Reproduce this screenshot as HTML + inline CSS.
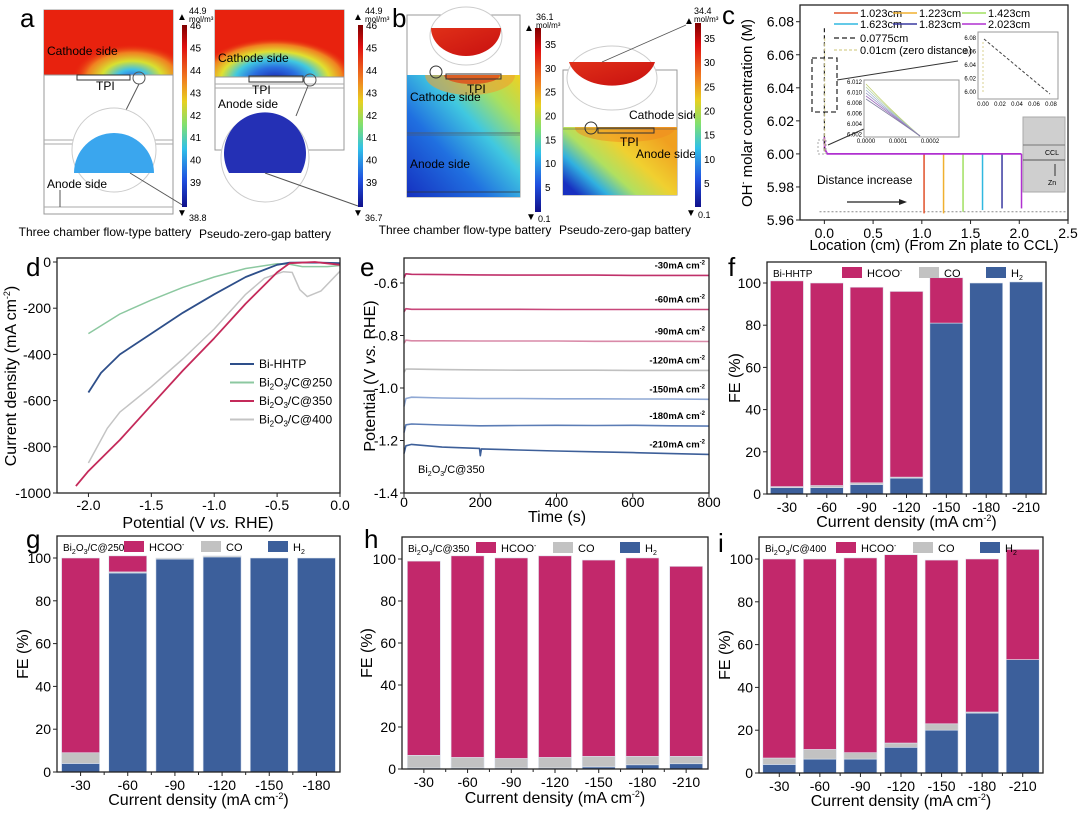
<!DOCTYPE html>
<html><head><meta charset="utf-8">
<style>
html,body{margin:0;padding:0;background:#fff;}
svg{display:block;font-family:"Liberation Sans",Arial,sans-serif;}
</style></head>
<body>
<svg id="fig" width="1080" height="815" viewBox="0 0 1080 815" xmlns="http://www.w3.org/2000/svg">
<defs>
<linearGradient id="jet" x1="0" y1="0" x2="0" y2="1">
<stop offset="0" stop-color="#7f0000"/><stop offset="0.12" stop-color="#e01010"/><stop offset="0.3" stop-color="#f08020"/><stop offset="0.42" stop-color="#e8d020"/><stop offset="0.55" stop-color="#80e070"/><stop offset="0.68" stop-color="#30c0e8"/><stop offset="0.85" stop-color="#2050e0"/><stop offset="1" stop-color="#10108a"/>
</linearGradient>
<radialGradient id="hotA1" cx="0.5" cy="0.5" r="0.5">
<stop offset="0" stop-color="#2a60e0"/><stop offset="0.25" stop-color="#40c0e8"/><stop offset="0.5" stop-color="#d8e030"/><stop offset="0.75" stop-color="#f08020"/><stop offset="1" stop-color="#e8220e" stop-opacity="0"/>
</radialGradient>
<radialGradient id="hotA2" cx="0.5" cy="0.5" r="0.5">
<stop offset="0" stop-color="#1a22b0"/><stop offset="0.3" stop-color="#2a70e0"/><stop offset="0.5" stop-color="#40c8e0"/><stop offset="0.68" stop-color="#e0e030"/><stop offset="0.85" stop-color="#f08020"/><stop offset="1" stop-color="#e8220e" stop-opacity="0"/>
</radialGradient>
<linearGradient id="gB1" x1="0" y1="1" x2="1" y2="0">
<stop offset="0" stop-color="#1530c0"/><stop offset="0.35" stop-color="#2070e0"/><stop offset="0.6" stop-color="#40c8e0"/><stop offset="0.8" stop-color="#a8e060"/><stop offset="1" stop-color="#f0d020"/>
</linearGradient>
<linearGradient id="gB2" x1="0" y1="0.8" x2="0.9" y2="0.2">
<stop offset="0" stop-color="#1830c0"/><stop offset="0.2" stop-color="#30b0e0"/><stop offset="0.4" stop-color="#b0e060"/><stop offset="0.65" stop-color="#f0d030"/><stop offset="1" stop-color="#f0a020"/>
</linearGradient>
<linearGradient id="redC" x1="0" y1="0" x2="1" y2="1">
<stop offset="0" stop-color="#e03018"/><stop offset="1" stop-color="#c81010"/>
</linearGradient>
<clipPath id="clipA1"><rect x="44" y="10" width="129" height="65"/></clipPath>
<clipPath id="clipA2"><rect x="215" y="10" width="129" height="67"/></clipPath>
<clipPath id="clipB1"><rect x="407" y="75" width="113" height="122"/></clipPath>
<clipPath id="clipB2"><rect x="563" y="127" width="114" height="68"/></clipPath>
</defs>

<!-- ===== Panel a ===== -->
<g>
<text x="20" y="27" font-size="26">a</text>
<rect x="44" y="10" width="129" height="204" fill="#fff" stroke="#999"/>
<rect x="44" y="10" width="129" height="65" fill="#e8220e"/>
<ellipse cx="132" cy="78" rx="60" ry="34" fill="url(#hotA1)" clip-path="url(#clipA1)"/>
<rect x="44" y="75" width="129" height="139" fill="#fff" stroke="#999"/>
<line x1="44" y1="140" x2="173" y2="140" stroke="#aaa"/><line x1="44" y1="144" x2="173" y2="144" stroke="#aaa"/>
<line x1="44" y1="207" x2="173" y2="207" stroke="#aaa"/>
<rect x="77" y="75" width="53" height="5" fill="none" stroke="#333"/>
<circle cx="139" cy="78" r="6" fill="none" stroke="#555"/>
<line x1="139" y1="84" x2="124" y2="114" stroke="#555"/>
<circle cx="114" cy="150" r="42" fill="#fff" stroke="#ccc"/>
<path d="M74,173 A40,40 0 1 1 154,173 Z" fill="#3aa6ee"/>
<line x1="130" y1="173" x2="184" y2="206" stroke="#555"/>
<text x="47" y="55" font-size="12">Cathode side</text>
<text x="96" y="90" font-size="12">TPI</text>
<text x="47" y="188" font-size="12">Anode side</text>
<line x1="60" y1="190" x2="60" y2="207" stroke="#555"/>
<rect x="182" y="25" width="5" height="182" fill="url(#jet)"/>
<text x="177" y="20" font-size="10">▲</text><text x="189" y="14" font-size="9">44.9</text><text x="189" y="22" font-size="8">mol/m³</text>
<text x="177" y="216" font-size="10">▼</text><text x="189" y="221" font-size="9">38.8</text>
<g font-size="10" id="cbA1"></g>
<text x="105" y="236" font-size="12" text-anchor="middle">Three chamber flow-type battery</text>

<rect x="215" y="10" width="129" height="140" fill="#fff" stroke="#999"/>
<rect x="215" y="10" width="129" height="67" fill="#e8220e"/>
<ellipse cx="275" cy="80" rx="80" ry="42" fill="url(#hotA2)" clip-path="url(#clipA2)"/>
<rect x="215" y="77" width="129" height="73" fill="#fff" stroke="#999"/>
<line x1="215" y1="84" x2="344" y2="84" stroke="#aaa"/><line x1="215" y1="88" x2="344" y2="88" stroke="#aaa"/>
<rect x="249" y="76" width="54" height="6" fill="none" stroke="#333"/>
<circle cx="310" cy="80" r="6" fill="none" stroke="#555"/>
<line x1="308" y1="86" x2="296" y2="116" stroke="#555"/>
<circle cx="265" cy="158" r="44" fill="#fff" stroke="#ccc"/>
<path d="M229,173 A41,41 0 1 1 301,173 Z" fill="#2430b5"/>
<line x1="265" y1="173" x2="358" y2="206" stroke="#555"/>
<text x="218" y="62" font-size="12">Cathode side</text>
<text x="252" y="94" font-size="12">TPI</text>
<text x="218" y="108" font-size="12">Anode side</text>
<rect x="358" y="25" width="5" height="182" fill="url(#jet)"/>
<text x="353" y="20" font-size="10">▲</text><text x="365" y="14" font-size="9">44.9</text><text x="365" y="22" font-size="8">mol/m³</text>
<text x="353" y="216" font-size="10">▼</text><text x="365" y="221" font-size="9">36.7</text>
<g font-size="10" id="cbA2"></g>
<text x="265" y="238" font-size="12" text-anchor="middle">Pseudo-zero-gap battery</text>
</g>

<!-- ===== Panel b ===== -->
<g>
<text x="392" y="27" font-size="26">b</text>
<rect x="407" y="15" width="113" height="182" fill="#fff" stroke="#999"/>
<rect x="407" y="75" width="113" height="122" fill="url(#gB1)"/>
<g clip-path="url(#clipB1)">
<ellipse cx="470" cy="75" rx="45" ry="20" fill="#f0a030" opacity="0.6"/>
<ellipse cx="472" cy="75" rx="28" ry="9" fill="#e04a18" opacity="0.8"/>
</g>
<line x1="407" y1="133" x2="520" y2="133" stroke="#555" stroke-width="0.8"/><line x1="407" y1="135" x2="520" y2="135" stroke="#555" stroke-width="0.6"/>
<line x1="407" y1="192" x2="520" y2="192" stroke="#333" stroke-width="0.8"/>
<rect x="446" y="74" width="55" height="5" fill="none" stroke="#333"/>
<ellipse cx="466" cy="36" rx="36" ry="29" fill="#fff" stroke="#ccc"/>
<path d="M431,28 L501,28 A35,28 0 0 1 431,28 Z" fill="url(#redC)"/>
<circle cx="436" cy="72" r="6" fill="none" stroke="#333"/>
<text x="467" y="93" font-size="12">TPI</text>
<text x="410" y="101" font-size="12">Cathode side</text>
<text x="410" y="168" font-size="12">Anode side</text>
<rect x="535" y="28" width="6" height="184" fill="url(#jet)"/>
<text x="524" y="31" font-size="10">▲</text><text x="536" y="20" font-size="9">36.1</text><text x="536" y="28" font-size="8">mol/m³</text>
<text x="526" y="220" font-size="10">▼</text><text x="538" y="222" font-size="9">0.1</text>
<g font-size="10" id="cbB1"></g>
<text x="465" y="234" font-size="12" text-anchor="middle">Three chamber flow-type battery</text>

<rect x="563" y="70" width="114" height="125" fill="#fff" stroke="#999"/>
<rect x="563" y="127" width="114" height="68" fill="url(#gB2)"/>
<g clip-path="url(#clipB2)">
<ellipse cx="625" cy="128" rx="50" ry="14" fill="#f08a20" opacity="0.5"/>
</g>
<line x1="563" y1="129" x2="677" y2="129" stroke="#555" stroke-width="0.6"/>
<rect x="598" y="128" width="56" height="5" fill="none" stroke="#333"/>
<circle cx="591" cy="128" r="6" fill="none" stroke="#333"/>
<ellipse cx="612" cy="78" rx="45" ry="32" fill="#fff" stroke="#ccc"/>
<path d="M569,62 L655,62 A44,30 0 0 1 569,62 Z" fill="url(#redC)"/>
<line x1="602" y1="62" x2="686" y2="25" stroke="#555" stroke-width="0.8"/>
<text x="629" y="119" font-size="12">Cathode side</text>
<text x="620" y="146" font-size="12">TPI</text>
<text x="636" y="158" font-size="12">Anode side</text>
<rect x="695" y="23" width="6" height="184" fill="url(#jet)"/>
<text x="684" y="24" font-size="10">▲</text><text x="694" y="14" font-size="9">34.4</text><text x="694" y="22" font-size="8">mol/m³</text>
<text x="686" y="216" font-size="10">▼</text><text x="698" y="218" font-size="9">0.1</text>
<g font-size="10" id="cbB2"></g>
<text x="625" y="234" font-size="12" text-anchor="middle">Pseudo-zero-gap battery</text>
</g>

<g id="charts"></g>
</svg>

<script>
// ---------- data ----------
const cbA1Ticks = [46,45,44,43,42,41,40,39];
const cbA2Ticks = [46,45,44,43,42,41,40,39];
const cbB1Ticks = [35,30,25,20,15,10,5];
const cbB2Ticks = [35,30,25,20,15,10,5];

const cDistances = [1.023,1.223,1.423,1.623,1.823,2.023];
const cDropTo = [5.964,5.964,5.965,5.966,5.967,5.967];
const cColors = ["#e0502a","#f0b030","#a0e060","#30b8e0","#3a3aa0","#b030d0"];
const cXTicks = [0.0,0.5,1.0,1.5,2.0,2.5];
const cYTicks = [5.96,5.98,6.00,6.02,6.04,6.06,6.08];

const dBiHHTP_x = [-2.0,-1.9,-1.75,-1.5,-1.25,-1.0,-0.75,-0.5,-0.4,-0.2,0.0];
const dBiHHTP_y = [-565,-480,-400,-310,-220,-140,-65,-12,-3,-2,-5];
const d250_x = [-2.0,-1.75,-1.5,-1.25,-1.0,-0.75,-0.5,-0.4,-0.3,-0.1,0.0];
const d250_y = [-310,-225,-165,-110,-65,-28,-8,-10,-20,-20,-15];
const d350_x = [-2.1,-2.0,-1.75,-1.5,-1.25,-1.0,-0.75,-0.5,-0.4,-0.2,0.0];
const d350_y = [-970,-905,-770,-620,-470,-330,-180,-45,-5,0,-12];
const d400_x = [-2.0,-1.85,-1.75,-1.5,-1.25,-1.0,-0.75,-0.6,-0.45,-0.38,-0.32,-0.26,-0.15,0.0];
const d400_y = [-870,-720,-650,-540,-420,-290,-140,-70,-42,-45,-120,-150,-125,-40];
const dXTicks = [-2.0,-1.5,-1.0,-0.5,0.0];
const dYTicks = [0,-200,-400,-600,-800,-1000];

const eTimes = [0,5,20,100,198,200,203,300,400,500,600,700,800];
const e30 = [-0.58,-0.565,-0.567,-0.568,-0.569,-0.569,-0.569,-0.570,-0.570,-0.570,-0.571,-0.571,-0.571];
const e60 = [-0.71,-0.698,-0.700,-0.700,-0.700,-0.700,-0.700,-0.700,-0.701,-0.701,-0.701,-0.701,-0.701];
const e90 = [-0.83,-0.818,-0.820,-0.820,-0.821,-0.821,-0.821,-0.821,-0.821,-0.822,-0.822,-0.822,-0.823];
const e120 = [-0.94,-0.928,-0.928,-0.930,-0.931,-0.931,-0.931,-0.932,-0.932,-0.932,-0.933,-0.933,-0.933];
const e150 = [-1.07,-1.040,-1.035,-1.038,-1.040,-1.040,-1.040,-1.040,-1.041,-1.041,-1.042,-1.042,-1.043];
const e180 = [-1.17,-1.140,-1.137,-1.141,-1.144,-1.144,-1.144,-1.143,-1.142,-1.143,-1.142,-1.144,-1.145];
const e210 = [-1.25,-1.220,-1.215,-1.225,-1.230,-1.258,-1.232,-1.236,-1.240,-1.243,-1.246,-1.250,-1.253];
const eLabels = ["-30mA cm","-60mA cm","-90mA cm","-120mA cm","-150mA cm","-180mA cm","-210mA cm"];
const eXTicks = [0,200,400,600,800];
const eYTicks = [-0.6,-0.8,-1.0,-1.2,-1.4];

const fCats = ["-30","-60","-90","-120","-150","-180","-210"];
const fH2 = [3,3,4.5,7.5,81,100,100.5];
const fCO = [0.5,1,0.8,0.5,0,0,0];
const fHCOO = [97.5,96,92.7,88,21.5,0,0];

const gCats = ["-30","-60","-90","-120","-150","-180"];
const gH2 = [4,93,99.5,100.5,100,100];
const gCO = [5,0.5,0.5,0.5,0,0];
const gHCOO = [91,7.5,0,0,0,0];

const hCats = ["-30","-60","-90","-120","-150","-180","-210"];
const hH2 = [0.5,0.5,0.5,0.5,1,2,2.5];
const hCO = [6,5,4.5,5,5,4,3.5];
const hHCOO = [92.5,96,95.5,96,93.5,94.5,90.5];

const iCats = ["-30","-60","-90","-120","-150","-180","-210"];
const iH2 = [4,6.5,6.5,12,20,28,53];
const iCO = [3,4.5,3,2,3,0.5,0];
const iHCOO = [93,89,91,88,76.5,71.5,51.5];
const feTicks = [0,20,40,60,80,100];

// ---------- helpers ----------
const NS = "http://www.w3.org/2000/svg";
const root = document.getElementById("charts");
function el(tag, attrs, parent){
  const e = document.createElementNS(NS, tag);
  for (const k in attrs) e.setAttribute(k, attrs[k]);
  (parent||root).appendChild(e);
  return e;
}
function txt(s, attrs, parent){ const t = el("text", attrs, parent); t.textContent = s; return t; }
function lin(d0,d1,r0,r1){ return v => r0 + (v-d0)*(r1-r0)/(d1-d0); }

function cbLabels(id, ticks, v0, y0, v1, y1, x){
  const g = document.getElementById(id);
  const sy = lin(v0,v1,y0,y1);
  ticks.forEach(v=>{
    const t = txt(String(v), {x:x, y:sy(v)+4}, g);
    
    
  });
}
cbLabels("cbA1", cbA1Ticks, 44, 70, 39, 182, 190);
cbLabels("cbA2", cbA2Ticks, 44, 70, 39, 182, 366);
cbLabels("cbB1", cbB1Ticks, 35, 44, 5, 187, 545);
cbLabels("cbB2", cbB2Ticks, 35, 38, 5, 183, 704);

function frame(L,T,R,B,name){
  const r = el("rect",{x:L,y:T,width:R-L,height:B-T,fill:"none",stroke:"#222","stroke-width":1.3});
  
  
}
function xTicks(ticks, sx, B, fmt, fs, dy){
  ticks.forEach(v=>{
    const x = sx(v);
    el("line",{x1:x,y1:B,x2:x,y2:B+4,stroke:"#222"});
    const t = txt(fmt(v),{x:x,y:B+(dy||17),"font-size":fs||14,"text-anchor":"middle"});
    
    
  });
}
function yTicks(ticks, sy, L, fmt, fs){
  ticks.forEach(v=>{
    const y = sy(v);
    el("line",{x1:L-4,y1:y,x2:L,y2:y,stroke:"#222"});
    const t = txt(fmt(v),{x:L-6,y:y+5,"font-size":fs||14,"text-anchor":"end"});
    
    
  });
}
function ytitle(s, x, y, fs, name){
  const t = el("text",{x:0,y:0,"font-size":fs||15,"text-anchor":"middle",transform:`translate(${x},${y}) rotate(-90)`});
  t.innerHTML = s;
  
  
}
function xtitle(s, x, y, fs, name){
  const t = el("text",{x:x,y:y,"font-size":fs||15,"text-anchor":"middle"});
  t.innerHTML = s;
  
  
}
function letter(s,x,y){
  const t = txt(s,{x:x,y:y,"font-size":26});
  
  
}
function poly(xs, ys, sx, sy, color, w, name, dash){
  const pts = xs.map((x,i)=>sx(x).toFixed(1)+","+sy(ys[i]).toFixed(1)).join(" ");
  const p = el("polyline",{points:pts,fill:"none",stroke:color,"stroke-width":w||1.5,"stroke-linejoin":"round"});
  if (dash) p.setAttribute("stroke-dasharray", dash);
  
  
  return p;
}

// ---------- panel c ----------
(function(){
  const L=800,R=1068,T=5,B=220;
  const sx = lin(-0.25,2.5,L,R), sy = lin(5.96,6.08,220,21.7);
  letter("c",722,24);
  const base = el("line",{x1:sx(-0.05),y1:sy(5.965),x2:sx(2.5),y2:sy(5.965),stroke:"#888","stroke-dasharray":"2,2"});
  
  
  cDistances.forEach((d,i)=>{
    const ln = el("line",{x1:sx(d),y1:sy(6.0),x2:sx(d),y2:sy(cDropTo[i]),stroke:cColors[i],"stroke-width":1.5});
    
    
  });
  poly([0,0.003,0.03,2.023],[6.01,6.003,6.0,6.0],sx,sy,"#b030d0",1.8,"plateau-line");
  poly([0,0],[6.076,6.0],sx,sy,"#222",1.2,"dashed-0.0775cm","4,3");
  poly([0.003,0.003],[6.07,6.0],sx,sy,"#d8d090",1,"dashed-0.01cm","3,2");
  const zb = el("rect",{x:812,y:58,width:25,height:54,fill:"none",stroke:"#333","stroke-dasharray":"5,3","stroke-width":1.3});
  
  
  el("rect",{x:818,y:140,width:8,height:14,fill:"none",stroke:"#aaa","stroke-dasharray":"2,2"});
  el("line",{x1:837,y1:80,x2:958,y2:61,stroke:"#333"});
  el("line",{x1:828,y1:145,x2:866,y2:128,stroke:"#333"});
  const i1 = el("rect",{x:864,y:80,width:95,height:57,fill:"#fff",stroke:"#999"});
  
  
  ["#c0d070","#b0d0a0","#a0b0d0","#9090c0","#a070c0","#8080a0"].forEach((c,k)=>{
    el("path",{d:`M866,${84+k*3} Q890,${110+k} 920,136`,fill:"none",stroke:c,"stroke-width":0.8});
  });
  ["6.012","6.010","6.008","6.006","6.004","6.002"].forEach((s,k)=>txt(s,{x:862,y:84+k*10.5,"font-size":6,"text-anchor":"end"}));
  ["0.0000","0.0001","0.0002"].forEach((s,k)=>txt(s,{x:866+k*32,y:143,"font-size":6,"text-anchor":"middle"}));
  const i2 = el("rect",{x:978,y:32,width:80,height:67,fill:"#fff",stroke:"#999"});
  
  
  el("line",{x1:984,y1:39,x2:1050,y2:94,stroke:"#444","stroke-dasharray":"3,2"});
  el("line",{x1:983,y1:42,x2:983,y2:94,stroke:"#d8d090","stroke-dasharray":"2,2"});
  ["6.08","6.06","6.04","6.02","6.00"].forEach((s,k)=>txt(s,{x:976,y:40+k*13.5,"font-size":6,"text-anchor":"end"}));
  ["0.00","0.02","0.04","0.06","0.08"].forEach((s,k)=>txt(s,{x:983+k*17,y:106,"font-size":6,"text-anchor":"middle"}));
  const blk = el("rect",{x:1023,y:117,width:42,height:75,fill:"#cfcfcf",stroke:"#aaa"});
  
  
  el("line",{x1:1023,y1:145,x2:1065,y2:145,stroke:"#777"});
  el("line",{x1:1023,y1:160,x2:1065,y2:160,stroke:"#555"});
  txt("CCL",{x:1045,y:155,"font-size":7});
  txt("Zn",{x:1048,y:185,"font-size":7});
  el("line",{x1:1055,y1:176,x2:1055,y2:164,stroke:"#333"});
  const di = txt("Distance increase",{x:817,y:184,"font-size":12});
  
  
  el("line",{x1:847,y1:202,x2:900,y2:202,stroke:"#222","stroke-width":1.2});
  el("path",{d:"M907,202 L899,199 L899,205 Z",fill:"#222"});
  const legNames=["1.023cm","1.223cm","1.423cm","1.623cm","1.823cm","2.023cm"];
  legNames.forEach((n,k)=>{
    const col=k%3,row=Math.floor(k/3);
    const x0=[834,893,962][col], y0=[13,24][row];
    el("line",{x1:x0,y1:y0,x2:x0+24,y2:y0,stroke:cColors[k],"stroke-width":1.5});
    const t=txt(n,{x:x0+26,y:y0+4,"font-size":11});
    
    
  });
  el("line",{x1:834,y1:38,x2:858,y2:38,stroke:"#222","stroke-dasharray":"5,3","stroke-width":1.3});
  const l7=txt("0.0775cm",{x:860,y:42,"font-size":11});
  
  
  el("line",{x1:834,y1:50,x2:858,y2:50,stroke:"#d8d090","stroke-dasharray":"3,2","stroke-width":1.3});
  const l8=txt("0.01cm (zero distance)",{x:860,y:54,"font-size":11});
  
  
  frame(L,T,R,B,"plot-frame-c");
  xTicks(cXTicks,sx,B,v=>v.toFixed(1),14,18);
  yTicks(cYTicks,sy,L,v=>v.toFixed(2),14);
  ytitle("OH<tspan font-size='9' dy='-6'>-</tspan><tspan dy='6'> molar concentration (M)</tspan>",752,113,15,"y-axis-title-c");
  xtitle("Location (cm) (From Zn plate to CCL)",934,250,15,"x-axis-title-c");
})();

// ---------- panel d ----------
(function(){
  const L=57,R=340,T=258,B=493;
  const sx=lin(-2.25,0,L,R), sy=lin(0,-1000,262,493);
  letter("d",26,276);
  poly(d250_x,d250_y,sx,sy,"#8cc8a0",1.5,"line-bi2o3-c-250");
  poly(d400_x,d400_y,sx,sy,"#c4c4c4",1.5,"line-bi2o3-c-400");
  poly(dBiHHTP_x,dBiHHTP_y,sx,sy,"#2e4f8a",1.8,"line-bi-hhtp");
  poly(d350_x,d350_y,sx,sy,"#c42a5a",1.8,"line-bi2o3-c-350");
  frame(L,T,R,B,"plot-frame-d");
  xTicks(dXTicks,sx,B,v=>v.toFixed(1),14,17);
  yTicks(dYTicks,sy,L,v=>String(v),14);
  ytitle("Current density (mA cm<tspan font-size='9' dy='-6'>-2</tspan><tspan dy='6'>)</tspan>",16,376,16,"y-axis-title-d");
  xtitle("Potential (V <tspan font-style='italic'>vs.</tspan> RHE)",198,528,16,"x-axis-title-d");
  const leg=[["Bi-HHTP","#2e4f8a"],["Bi<tspan font-size='8' dy='3'>2</tspan><tspan dy='-3'>O</tspan><tspan font-size='8' dy='3'>3</tspan><tspan dy='-3'>/C@250</tspan>","#8cc8a0"],["Bi<tspan font-size='8' dy='3'>2</tspan><tspan dy='-3'>O</tspan><tspan font-size='8' dy='3'>3</tspan><tspan dy='-3'>/C@350</tspan>","#c42a5a"],["Bi<tspan font-size='8' dy='3'>2</tspan><tspan dy='-3'>O</tspan><tspan font-size='8' dy='3'>3</tspan><tspan dy='-3'>/C@400</tspan>","#c4c4c4"]];
  leg.forEach((l,k)=>{
    const y=364+k*18.5;
    el("line",{x1:230,y1:y,x2:254,y2:y,stroke:l[1],"stroke-width":2});
    const t=el("text",{x:259,y:y+4,"font-size":12});
    t.innerHTML=l[0];
    
    
  });
})();

// ---------- panel e ----------
(function(){
  const L=404,R=709,T=258,B=493;
  const sx=lin(0,800,L,R), sy=lin(-0.6,-1.4,283,493);
  letter("e",360,276);
  const series=[e30,e60,e90,e120,e150,e180,e210];
  const cols=["#c0306a","#c8477a","#d98aa8","#c0c0c0","#8fa8d4","#5b7cb5","#3d5f99"];
  series.forEach((s,k)=>{
    poly(eTimes,s,sx,sy,cols[k],1.6,"trace"+eLabels[k].replace(/\s/g,"").replace("mAcm","")+"mA");
    const t=el("text",{x:705,y:sy(s[s.length-1])-7,"font-size":9.5,"font-weight":"bold","text-anchor":"end"});
    t.innerHTML=eLabels[k]+"<tspan font-size='6' dy='-4'>-2</tspan>";
    
    
  });
  frame(L,T,R,B,"plot-frame-e");
  xTicks(eXTicks,sx,B,v=>String(v),14,14);
  yTicks(eYTicks,sy,L,v=>v.toFixed(1),14);
  ytitle("Potential (V <tspan font-style='italic'>vs.</tspan> RHE)",375,376,16,"y-axis-title-e");
  xtitle("Time (s)",557,522,16,"x-axis-title-e");
  const lab=el("text",{x:418,y:473,"font-size":11});
  lab.innerHTML="Bi<tspan font-size='7' dy='3'>2</tspan><tspan dy='-3'>O</tspan><tspan font-size='7' dy='3'>3</tspan><tspan dy='-3'>/C@350</tspan>";
  
  
})();

// ---------- bar panels ----------
function barPanel(o){
  const {L,R,T,B,y0,y100,cats,h2,co,hc,lab,ltr,lx,ly,bw,legX,ytx,xty,name}=o;
  const sy=lin(0,100,y0,y100);
  const step=(R-L)/cats.length;
  letter(ltr,lx,ly);
  cats.forEach((c,i)=>{
    const cx=L+step*(i+0.5), x=cx-bw/2;
    let acc=0;
    [[h2[i],"#3c5f9b","h2"],[co[i],"#c2c2c2","co"],[hc[i],"#c2286b","hcoo"]].forEach(([v,col,nm])=>{
      if(v<=0) return;
      const r=el("rect",{x:x,y:sy(acc+v),width:bw,height:sy(acc)-sy(acc+v),fill:col,stroke:"#dfe6f0","stroke-width":0.6});
      
      
      acc+=v;
    });
    el("line",{x1:cx,y1:B,x2:cx,y2:B+4,stroke:"#222"});
    if(i>0) el("line",{x1:L+step*i,y1:B,x2:L+step*i,y2:B+3,stroke:"#222"});
    const t=txt(c,{x:cx,y:B+18,"font-size":14,"text-anchor":"middle"});
    
    
  });
  frame(L,T,R,B,"plot-frame-"+name);
  yTicks(feTicks,sy,L,v=>String(v),14);
  ytitle("FE (%)",ytx,(T+B)/2,16,"y-axis-title-"+name);
  xtitle("Current density (mA cm<tspan font-size='9' dy='-6'>-2</tspan><tspan dy='6'>)</tspan>",(L+R)/2,xty,16,"x-axis-title-"+name);
  const sl=el("text",{x:L+6,y:T+15,"font-size":10});
  sl.innerHTML=lab;
  
  
  const items=[["#c2286b","HCOO<tspan font-size='7' dy='-4'>-</tspan>",38],["#c2c2c2","CO",28],["#3c5f9b","H<tspan font-size='7' dy='3'>2</tspan>",20]];
  let x=legX;
  items.forEach(([col,s,w])=>{
    const r=el("rect",{x:x,y:T+5,width:20,height:11,fill:col});
    
    
    const t=el("text",{x:x+25,y:T+15,"font-size":11});
    t.innerHTML=s;
    
    
    x+=25+w+14;
  });
}
barPanel({L:767,R:1046,T:262,B:494,y0:494,y100:283,cats:fCats,h2:fH2,co:fCO,hc:fHCOO,ltr:"f",lx:728,ly:276,bw:33,legX:842,ytx:740,xty:527,name:"f",
  lab:"Bi-HHTP"});
barPanel({L:57,R:340,T:536,B:772,y0:772,y100:558,cats:gCats,h2:gH2,co:gCO,hc:gHCOO,ltr:"g",lx:26,ly:548,bw:38,legX:124,ytx:28,xty:805,name:"g",
  lab:"Bi<tspan font-size='7' dy='3'>2</tspan><tspan dy='-3'>O</tspan><tspan font-size='7' dy='3'>3</tspan><tspan dy='-3'>/C@250</tspan>"});
barPanel({L:402,R:708,T:537,B:769,y0:769,y100:559,cats:hCats,h2:hH2,co:hCO,hc:hHCOO,ltr:"h",lx:364,ly:548,bw:33,legX:476,ytx:372,xty:803,name:"h",
  lab:"Bi<tspan font-size='7' dy='3'>2</tspan><tspan dy='-3'>O</tspan><tspan font-size='7' dy='3'>3</tspan><tspan dy='-3'>/C@350</tspan>"});
barPanel({L:759,R:1043,T:537,B:773,y0:773,y100:559,cats:iCats,h2:iH2,co:iCO,hc:iHCOO,ltr:"i",lx:718,ly:552,bw:33,legX:836,ytx:730,xty:806,name:"i",
  lab:"Bi<tspan font-size='7' dy='3'>2</tspan><tspan dy='-3'>O</tspan><tspan font-size='7' dy='3'>3</tspan><tspan dy='-3'>/C@400</tspan>"});
</script>
</body></html>
